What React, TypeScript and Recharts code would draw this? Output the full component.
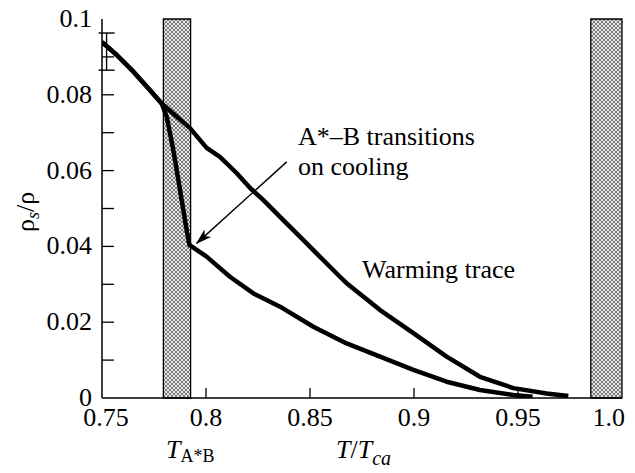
import React from 'react'
import {
  ComposedChart,
  Line,
  Scatter,
  ErrorBar,
  XAxis,
  YAxis,
  ReferenceArea,
  ReferenceDot,
} from 'recharts'

// shared start of both traces (left of the A*-B band)
const sharedT = [0.75, 0.7571, 0.7651, 0.7731, 0.7787]
const sharedRho = [0.0939, 0.0905, 0.0861, 0.0812, 0.0777]

// warming trace (upper branch)
const warmT = [0.7923, 0.8003, 0.8067, 0.8148, 0.8212, 0.8276, 0.8356, 0.8484, 0.8516, 0.8644, 0.8676, 0.8837, 0.8997, 0.9157, 0.9317, 0.9478, 0.9638, 0.9742]
const warmRho = [0.0712, 0.066, 0.0636, 0.0593, 0.0554, 0.0522, 0.0478, 0.0408, 0.039, 0.032, 0.0303, 0.0232, 0.0171, 0.0109, 0.0056, 0.0026, 0.0012, 0.0005]

// cooling trace (lower branch, drops through the band)
const coolT = [0.7811, 0.7843, 0.7875, 0.7907, 0.792, 0.8003, 0.8115, 0.8228, 0.8356, 0.8516, 0.8676, 0.8837, 0.8997, 0.9157, 0.9317, 0.9478, 0.957]
const coolRho = [0.0742, 0.0654, 0.0549, 0.0443, 0.0404, 0.0373, 0.032, 0.0276, 0.0241, 0.0188, 0.0144, 0.0109, 0.0074, 0.0043, 0.0021, 0.0008, 0.0003]

// hatched bands: A*B transition region and near Tca
const bands = [
  [0.7795, 0.7926],
  [0.985, 1.0],
]

// error bar at the start of the trace
const errT = [0.7522]
const errRho = [0.0914]
const errSize = [0.0049]

// arrow from annotation to the kink
const arrowT = [0.8388, 0.7955]
const arrowRho = [0.0623, 0.0408]

const xTicks = [0.75, 0.8, 0.85, 0.9, 0.95, 1.0]
const xTickLabels = ['0.75', '0.8', '0.85', '0.9', '0.95', '1.0']
const yTicks = [0, 0.01, 0.02, 0.03, 0.04, 0.05, 0.06, 0.07, 0.08, 0.09, 0.1]
const yTickLabels = ['0', '', '0.02', '', '0.04', '', '0.06', '', '0.08', '', '0.1']

const toPoints = (xs: number[], ys: number[]) => xs.map((x, i) => ({ x, y: ys[i] }))

const warmData = toPoints([...sharedT, ...warmT], [...sharedRho, ...warmRho])
const coolData = toPoints([...sharedT, ...coolT], [...sharedRho, ...coolRho])
const errData = errT.map((x, i) => ({ x, y: errRho[i], err: errSize[i] }))
const arrowData = toPoints(arrowT, arrowRho)

const FS = 26
const TXT = { fontFamily: 'Liberation Serif', fontSize: FS }

function XTick(props: any) {
  const { x, y, payload } = props
  const i = xTicks.indexOf(payload.value)
  const inner = i > 0 && i < xTicks.length - 1
  const last = i === xTicks.length - 1
  return (
    <g>
      {inner && <line x1={x} x2={x} y1={y} y2={y - 10} stroke="#000" strokeWidth={1.3} />}
      <text x={last ? x + 3 : i === 0 ? x + 4 : x} y={y + 28} textAnchor={last ? 'end' : 'middle'} style={TXT}>
        {xTickLabels[i]}
      </text>
    </g>
  )
}

function YTick(props: any) {
  const { x, y, payload } = props
  const i = yTicks.findIndex((t) => Math.abs(t - payload.value) < 1e-9)
  const edge = i === 0 || i === yTicks.length - 1
  return (
    <g>
      {!edge && <line x1={x} x2={x + 12} y1={y} y2={y} stroke="#000" strokeWidth={1.3} />}
      <text x={x - 10} y={y + 8} textAnchor="end" style={TXT}>
        {yTickLabels[i]}
      </text>
    </g>
  )
}

function Note({ cx, cy, text }: { cx?: number; cy?: number; text: string }) {
  return (
    <text x={cx} y={cy} style={TXT}>
      {text}
    </text>
  )
}

export default function App() {
  return (
    <div style={{ position: 'relative', margin: -8, width: 635, height: 473, background: '#fff' }}>
      <ComposedChart width={635} height={473} margin={{ top: 19, right: 13, left: 42, bottom: 35 }}>
        <defs>
          <pattern id="hatch" width="4" height="4" patternUnits="userSpaceOnUse">
            <rect width="4" height="4" fill="#e6e6e6" />
            <path d="M0,0 L4,4 M4,0 L0,4" stroke="#707070" strokeWidth="0.9" />
          </pattern>
          <marker id="arrowHead" markerWidth="16" markerHeight="12" refX="15" refY="6" orient="auto" markerUnits="userSpaceOnUse">
            <path d="M0,1 L16,6 L0,11 L4,6 Z" fill="#000" />
          </marker>
        </defs>
        <XAxis
          xAxisId="b"
          dataKey="x"
          type="number"
          domain={[0.75, 1.0]}
          ticks={xTicks}
          interval={0}
          tickSize={0}
          tickMargin={0}
          tick={<XTick />}
          height={40}
          axisLine={{ stroke: '#000', strokeWidth: 1.5 }}
          allowDataOverflow
        />
        <XAxis xAxisId="t" orientation="top" type="number" domain={[0.75, 1.0]} height={0} tick={false} tickLine={false} axisLine={{ stroke: '#000', strokeWidth: 1.5 }} />
        <YAxis
          yAxisId="l"
          dataKey="y"
          type="number"
          domain={[0, 0.1]}
          ticks={yTicks}
          interval={0}
          tickSize={0}
          tickMargin={0}
          tick={<YTick />}
          width={60}
          axisLine={{ stroke: '#000', strokeWidth: 1.5 }}
          allowDataOverflow
        />
        <YAxis yAxisId="r" orientation="right" type="number" domain={[0, 0.1]} width={0} tick={false} tickLine={false} axisLine={{ stroke: '#000', strokeWidth: 1.5 }} />
        {bands.map(([a, b], i) => (
          <ReferenceArea
            key={i}
            xAxisId="b"
            yAxisId="l"
            x1={a}
            x2={b}
            y1={0}
            y2={0.1}
            fill="url(#hatch)"
            fillOpacity={1}
            stroke="#000"
            strokeWidth={1.3}
          />
        ))}
        <Line xAxisId="b" yAxisId="l" data={coolData} dataKey="y" type="linear" stroke="#000" strokeWidth={4.5} dot={false} isAnimationActive={false} strokeLinejoin="round" />
        <Line xAxisId="b" yAxisId="l" data={warmData} dataKey="y" type="linear" stroke="#000" strokeWidth={4.5} dot={false} isAnimationActive={false} strokeLinejoin="round" />
        <Line xAxisId="b" yAxisId="l" data={arrowData} dataKey="y" type="linear" stroke="#000" strokeWidth={1.4} dot={false} isAnimationActive={false} markerEnd="url(#arrowHead)" />
        <Scatter xAxisId="b" yAxisId="l" data={errData} dataKey="y" shape={() => <g />} isAnimationActive={false}>
          <ErrorBar dataKey="err" direction="y" width={8} stroke="#000" strokeWidth={1.4} />
        </Scatter>
        <ReferenceDot xAxisId="b" yAxisId="l" x={0.8442} y={0.0668} r={0} shape={(p: any) => <Note cx={p.cx} cy={p.cy} text="A*–B transitions" />} />
        <ReferenceDot xAxisId="b" yAxisId="l" x={0.8442} y={0.0588} r={0} shape={(p: any) => <Note cx={p.cx} cy={p.cy} text="on cooling" />} />
        <ReferenceDot xAxisId="b" yAxisId="l" x={0.875} y={0.0317} r={0} shape={(p: any) => <Note cx={p.cx} cy={p.cy} text="Warming trace" />} />
      </ComposedChart>
      <svg width={635} height={473} style={{ position: 'absolute', left: 0, top: 0, pointerEvents: 'none' }}>
        <text x={166} y={458} style={TXT}>
          <tspan fontStyle="italic">T</tspan>
          <tspan fontSize={18} dy={4}>A*B</tspan>
        </text>
        <text x={336} y={458} style={TXT}>
          <tspan fontStyle="italic">T</tspan>
          <tspan>/</tspan>
          <tspan fontStyle="italic">T</tspan>
          <tspan fontStyle="italic" fontSize={20} dy={7}>ca</tspan>
        </text>
        <text transform="translate(34,212) rotate(-90)" textAnchor="middle" style={TXT}>
          ρ<tspan fontStyle="italic" fontSize={18} dy={5}>s</tspan>
          <tspan dy={-5}>/ρ</tspan>
        </text>
      </svg>
    </div>
  )
}
